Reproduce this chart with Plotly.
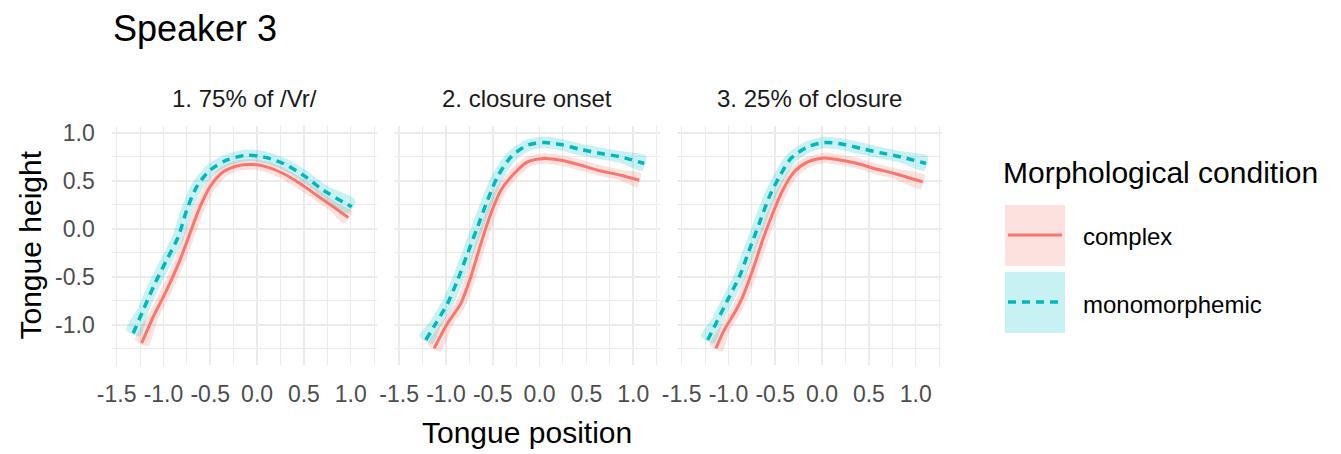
import numpy as np
import plotly.graph_objects as go

# ---------------- data ----------------
panels = ["1. 75% of /Vr/", "2. closure onset", "3. 25% of closure"]
conditions = ["complex", "monomorphemic"]

p1_complex_x = [-1.233, -1.109, -0.966, -0.824, -0.717, -0.610, -0.503, -0.361, -0.183, -0.041, 0.103, 0.280, 0.458, 0.637, 0.814, 0.974]
p1_complex_y = [-1.19, -0.915, -0.637, -0.325, -0.048, 0.229, 0.437, 0.593, 0.662, 0.669, 0.645, 0.576, 0.472, 0.350, 0.229, 0.118]
p1_mono_x = [-1.323, -1.216, -1.091, -0.966, -0.842, -0.752, -0.645, -0.503, -0.325, -0.111, 0.066, 0.280, 0.494, 0.707, 1.011]
p1_mono_y = [-1.087, -0.845, -0.568, -0.325, -0.083, 0.194, 0.437, 0.610, 0.714, 0.766, 0.749, 0.680, 0.558, 0.402, 0.229]

p2_complex_x = [-1.126, -0.983, -0.841, -0.734, -0.627, -0.520, -0.413, -0.271, -0.128, 0.049, 0.228, 0.441, 0.620, 0.868, 1.064]
p2_complex_y = [-1.243, -0.983, -0.776, -0.499, -0.152, 0.160, 0.402, 0.576, 0.696, 0.732, 0.714, 0.662, 0.610, 0.558, 0.506]
p2_mono_x = [-1.215, -1.108, -0.983, -0.876, -0.769, -0.662, -0.556, -0.449, -0.306, -0.128, 0.049, 0.228, 0.441, 0.655, 0.868, 1.118]
p2_mono_y = [-1.157, -0.983, -0.776, -0.533, -0.256, 0.021, 0.298, 0.541, 0.748, 0.870, 0.898, 0.877, 0.825, 0.784, 0.748, 0.680]

p3_complex_x = [-1.134, -1.045, -0.938, -0.848, -0.741, -0.635, -0.528, -0.421, -0.297, -0.154, 0.024, 0.202, 0.380, 0.558, 0.771, 1.075]
p3_complex_y = [-1.243, -1.053, -0.879, -0.707, -0.429, -0.117, 0.160, 0.402, 0.593, 0.696, 0.738, 0.714, 0.680, 0.628, 0.576, 0.489]
p3_mono_x = [-1.222, -1.115, -1.009, -0.884, -0.778, -0.671, -0.564, -0.457, -0.333, -0.154, 0.024, 0.220, 0.416, 0.629, 0.843, 1.110]
p3_mono_y = [-1.157, -0.949, -0.741, -0.499, -0.221, 0.056, 0.333, 0.541, 0.732, 0.852, 0.898, 0.880, 0.836, 0.790, 0.748, 0.680]

# half width of the confidence band (data units), ends are a bit wider
band_complex = 0.055
band_mono = 0.060
band_end_extra = 0.02

x_tickvals = [-1.5, -1.0, -0.5, 0.0, 0.5, 1.0]
x_ticktext = ["-1.5", "-1.0", "-0.5", "0.0", "0.5", "1.0"]
x_minor = [-1.25, -0.75, -0.25, 0.25, 0.75, 1.25]
y_tickvals = [-1.0, -0.5, 0.0, 0.5, 1.0]
y_ticktext = ["-1.0", "-0.5", "0.0", "0.5", "1.0"]
y_minor = [-1.25, -0.75, -0.25, 0.25, 0.75]

series = {
    ("complex", 0): (p1_complex_x, p1_complex_y),
    ("monomorphemic", 0): (p1_mono_x, p1_mono_y),
    ("complex", 1): (p2_complex_x, p2_complex_y),
    ("monomorphemic", 1): (p2_mono_x, p2_mono_y),
    ("complex", 2): (p3_complex_x, p3_complex_y),
    ("monomorphemic", 2): (p3_mono_x, p3_mono_y),
}

# ---------------- styling / layout ----------------
W, H = 1341, 454
FONT = "Liberation Sans, Arial, sans-serif"
GRID = "#EBEBEB"
line_col = {"complex": "#F8766D", "monomorphemic": "#00B8BC"}
band_col = {"complex": "rgba(248,118,109,0.22)", "monomorphemic": "rgba(0,191,196,0.22)"}
line_dash = {"complex": "solid", "monomorphemic": "8px,6px"}
line_w = {"complex": 3, "monomorphemic": 3.5}

X_RANGE = [-1.553, 1.281]
Y_RANGE = [-1.417, 1.07]
panel_left = [111.7, 394.2, 676.7]
panel_w = 265.3
panel_top, panel_bot = 126, 365

sx = panel_w / (X_RANGE[1] - X_RANGE[0])
sy = (panel_bot - panel_top) / (Y_RANGE[1] - Y_RANGE[0])


def band_polygon(x, y, hw):
    x = np.asarray(x, float)
    y = np.asarray(y, float)
    dx = np.gradient(x * sx)
    dy = np.gradient(y * sy)
    n = np.hypot(dx, dy)
    nx, ny = -dy / n, dx / n
    w = np.full(len(x), hw)
    w[0] += band_end_extra
    w[-1] += band_end_extra
    ux = x + w * nx * sy / sx
    uy = y + w * ny
    lx = x - w * nx * sy / sx
    ly = y - w * ny
    px = np.concatenate([ux, lx[::-1], ux[:1]])
    py = np.concatenate([uy, ly[::-1], uy[:1]])
    return px, py


fig = go.Figure()

for i in range(3):
    xa = "x" if i == 0 else f"x{i+1}"
    ya = "y" if i == 0 else f"y{i+1}"
    for cond in conditions:
        x, y = series[(cond, i)]
        hw = band_complex if cond == "complex" else band_mono
        bx, by = band_polygon(x, y, hw)
        fig.add_trace(go.Scatter(x=bx, y=by, mode="lines", fill="toself",
                                 fillcolor=band_col[cond], line=dict(width=0, shape="spline", smoothing=0.6),
                                 hoverinfo="skip", showlegend=False, xaxis=xa, yaxis=ya))
    for cond in conditions:
        x, y = series[(cond, i)]
        fig.add_trace(go.Scatter(x=x, y=y, mode="lines", name=cond,
                                 line=dict(color=line_col[cond], width=line_w[cond], dash=line_dash[cond],
                                           shape="spline", smoothing=0.8),
                                 showlegend=False, xaxis=xa, yaxis=ya))

layout = dict(
    width=W, height=H, margin=dict(l=0, r=0, t=0, b=0, autoexpand=False),
    paper_bgcolor="white", plot_bgcolor="white",
    font=dict(family=FONT, color="black"), showlegend=False,
)
for i in range(3):
    xk = "xaxis" if i == 0 else f"xaxis{i+1}"
    yk = "yaxis" if i == 0 else f"yaxis{i+1}"
    anchor_y = "y" if i == 0 else f"y{i+1}"
    anchor_x = "x" if i == 0 else f"x{i+1}"
    layout[xk] = dict(
        domain=[panel_left[i] / W, (panel_left[i] + panel_w) / W], anchor=anchor_y,
        range=X_RANGE, tickmode="array", tickvals=x_tickvals, ticktext=x_ticktext,
        showgrid=True, gridcolor=GRID, gridwidth=1.6, zeroline=False, showline=False, ticks="",
        tickfont=dict(size=23, color="#4D4D4D", family=FONT), ticklabelstandoff=13,
        minor=dict(tickmode="array", tickvals=x_minor, showgrid=True, gridcolor=GRID, gridwidth=1.0),
        fixedrange=True, automargin=False,
    )
    layout[yk] = dict(
        domain=[1 - panel_bot / H, 1 - panel_top / H], anchor=anchor_x,
        range=Y_RANGE, tickmode="array", tickvals=y_tickvals, ticktext=y_ticktext,
        showticklabels=(i == 0),
        showgrid=True, gridcolor=GRID, gridwidth=1.6, zeroline=False, showline=False, ticks="",
        tickfont=dict(size=23, color="#4D4D4D", family=FONT), ticklabelstandoff=16,
        minor=dict(tickmode="array", tickvals=y_minor, showgrid=True, gridcolor=GRID, gridwidth=1.0),
        fixedrange=True, automargin=False,
    )

annotations = [
    dict(text="Speaker 3", x=111 / W, y=1 - 28 / H, xref="paper", yref="paper",
         xanchor="left", yanchor="middle", showarrow=False, font=dict(size=36, color="black", family=FONT)),
    dict(text="Tongue position", x=(panel_left[0] + panel_left[2] + panel_w) / 2 / W, y=1 - 432 / H,
         xref="paper", yref="paper", xanchor="center", yanchor="middle", showarrow=False,
         font=dict(size=30, color="black", family=FONT)),
    dict(text="Tongue height", x=30 / W, y=1 - (panel_top + panel_bot) / 2 / H, textangle=-90,
         xref="paper", yref="paper", xanchor="center", yanchor="middle", showarrow=False,
         font=dict(size=30, color="black", family=FONT)),
    dict(text="Morphological condition", x=1001 / W, y=1 - 172 / H, xref="paper", yref="paper",
         xanchor="left", yanchor="middle", showarrow=False, font=dict(size=30, color="black", family=FONT)),
]
for i, p in enumerate(panels):
    annotations.append(dict(text=p, x=(panel_left[i] + panel_w / 2) / W, y=1 - 98 / H,
                            xref="paper", yref="paper", xanchor="center", yanchor="middle",
                            showarrow=False, font=dict(size=24, color="#1A1A1A", family=FONT)))

# legend keys (drawn manually, ggplot-style)
shapes = []
key_top = [205, 272]
for k, cond in enumerate(conditions):
    t = key_top[k]
    shapes.append(dict(type="rect", xref="paper", yref="paper",
                       x0=1005 / W, x1=1065 / W, y0=1 - (t + 61) / H, y1=1 - t / H,
                       fillcolor=band_col[cond], line=dict(width=0), layer="above"))
    yc = t + 30
    shapes.append(dict(type="line", xref="paper", yref="paper",
                       x0=1008 / W, x1=1062 / W, y0=1 - yc / H, y1=1 - yc / H,
                       line=dict(color=line_col[cond], width=line_w[cond], dash=line_dash[cond]),
                       layer="above"))
    annotations.append(dict(text=cond, x=1081 / W, y=1 - (yc + 2) / H, xref="paper", yref="paper",
                            xanchor="left", yanchor="middle", showarrow=False,
                            font=dict(size=24, color="black", family=FONT)))

layout["annotations"] = annotations
layout["shapes"] = shapes
fig.update_layout(**layout)
fig.write_html("out.html",
               config={"displayModeBar": False, "staticPlot": True},
               post_script="document.body.style.margin='0';document.body.style.padding='0';"
                           "document.body.style.overflow='hidden';")
